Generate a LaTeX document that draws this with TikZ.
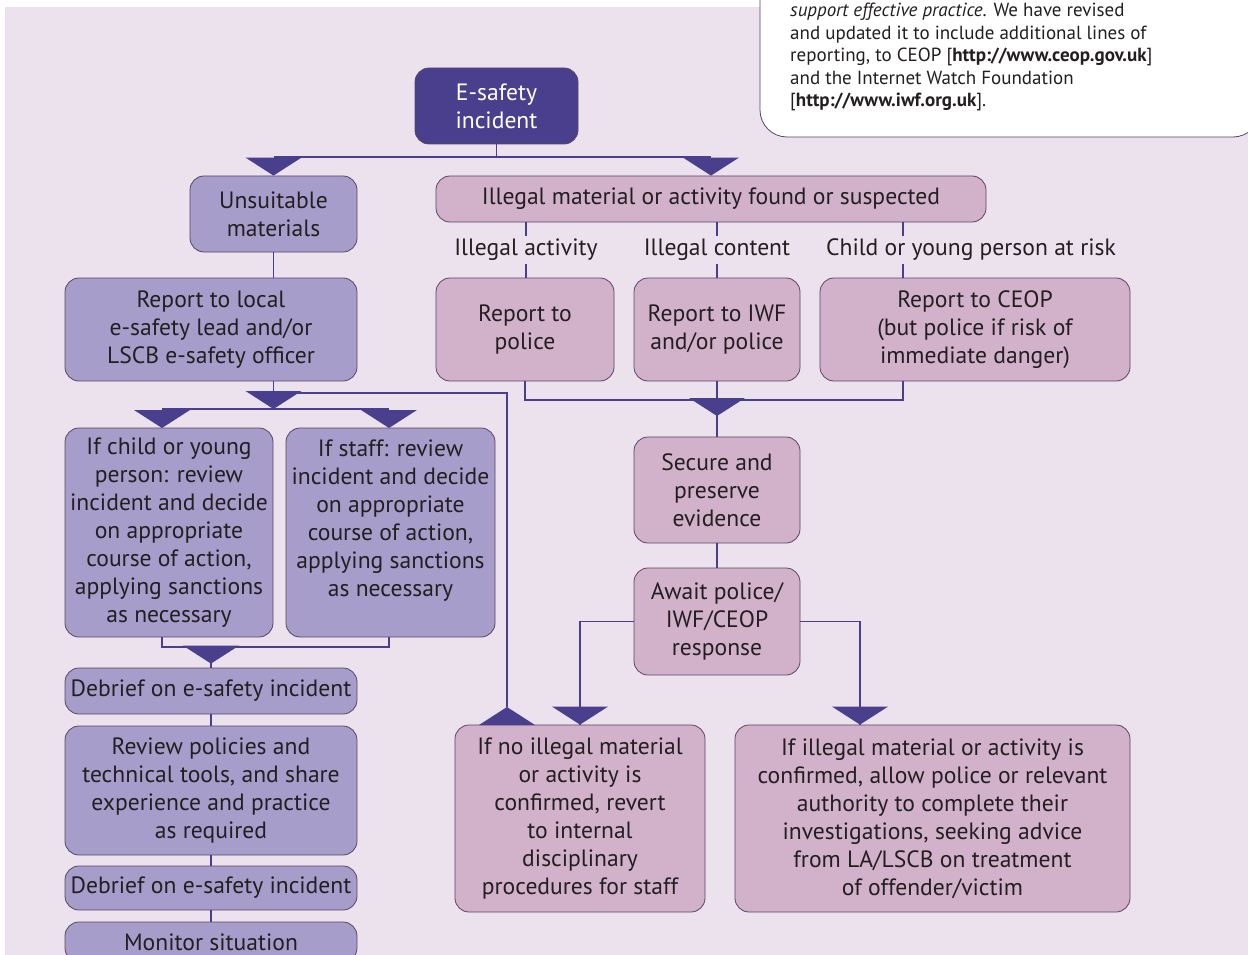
\documentclass[tikz,border=0pt]{standalone}
\usepackage{fontspec}
\setmainfont{PT Sans}
\definecolor{navy}{HTML}{4A3F8C}
\definecolor{lilac}{HTML}{A69DCA}
\definecolor{mauve}{HTML}{D2B1CB}
\definecolor{backg}{HTML}{ECE2EE}
\definecolor{edge}{HTML}{5A4664}
\definecolor{ink}{HTML}{231F20}
\newcommand{\dtri}[1]{\fill[navy] (#1) -- ++(-28,18) -- ++(56,0) -- cycle;}
\newcommand{\utri}[1]{\fill[navy] (#1) -- ++(-28,-18) -- ++(56,0) -- cycle;}

\begin{document}
\begin{tikzpicture}[x=1pt, y=1pt]
	\tikzstyle{box}=[draw=edge, line width=0.8pt, rounded corners=14pt, align=center, inner sep=0pt, text=ink, font=\fontsize{23.6}{28}\selectfont]
	\tikzstyle{lilacStyle}=[box, fill=lilac]
	\tikzstyle{mauveStyle}=[box, fill=mauve]
	\tikzstyle{labelStyle}=[align=center, inner sep=0pt, minimum height=28pt, text=ink, font=\fontsize{23.6}{28}\selectfont]
	\tikzstyle{link}=[navy, line width=1.8pt]
	\clip (0,0) rectangle (1248,-955);
	\fill[white] (0,0) rectangle (1248,-955);
	\fill[backg] (5,-7) rectangle (1248,-955);
	\draw[edge, fill=white, line width=0.8pt, rounded corners=27pt] (760,5) -- (760,-137) -- (1260,-137) -- (1260,5);
	\node[anchor=north west, align=left, inner sep=0pt, text=ink, font=\fontsize{19}{22.5}\selectfont] (note) at (790,-3) {\textit{support effective practice}. We have revised\\and updated it to include additional lines of\\reporting, to CEOP {[}\textbf{http://www.ceop.gov.uk}]\\and the Internet Watch Foundation\\{[}\textbf{http://www.iwf.org.uk}].};
	\node[box, fill=navy, text=white, minimum width=163pt, minimum height=76pt] (esafe) at (496.5,-106) {E-safety\\incident};
	\node[lilacStyle, minimum width=167pt, minimum height=76pt] (unsuit) at (273.5,-214) {Unsuitable\\materials};
	\node[mauveStyle, minimum width=550pt, minimum height=46pt] (illegal) at (711,-199) {Illegal material or activity found or suspected};
	\node[labelStyle] (lbl1) at (526,-250) {Illegal activity};
	\node[labelStyle] (lbl2) at (717,-250) {Illegal content};
	\node[labelStyle] (lbl3) at (971,-250) {Child or young person at risk};
	\node[lilacStyle, minimum width=292pt, minimum height=103pt] (local) at (211,-329.5) {Report to local\\e-safety lead and/or\\LSCB e-safety officer};
	\node[mauveStyle, minimum width=178pt, minimum height=103pt] (police) at (525,-329.5) {Report to\\police};
	\node[mauveStyle, minimum width=166pt, minimum height=103pt] (iwf) at (717,-329.5) {Report to IWF\\and/or police};
	\node[mauveStyle, minimum width=310pt, minimum height=103pt] (ceop) at (975,-329.5) {Report to CEOP\\(but police if risk of\\immediate danger)};
	\node[lilacStyle, minimum width=208pt, minimum height=209pt] (child) at (169,-532.5) {If child or young\\person: review\\incident and decide\\on appropriate\\course of action,\\applying sanctions\\as necessary};
	\node[lilacStyle, minimum width=209pt, minimum height=209pt] (staff) at (390.5,-532.5) {If staff: review\\incident and decide\\on appropriate\\course of action,\\applying sanctions\\as necessary\\ \mbox{}};
	\node[mauveStyle, minimum width=166pt, minimum height=106pt] (secure) at (717,-490) {Secure and\\preserve\\evidence};
	\node[mauveStyle, minimum width=166pt, minimum height=107pt] (await) at (717,-621.5) {Await police/\\IWF/CEOP\\response};
	\node[lilacStyle, minimum width=292pt, minimum height=46pt] (debrief1) at (211,-691) {Debrief on e-safety incident};
	\node[lilacStyle, minimum width=292pt, minimum height=129pt] (review) at (211,-790.5) {Review policies and\\technical tools, and share\\experience and practice\\as required};
	\node[lilacStyle, minimum width=292pt, minimum height=44pt] (debrief2) at (211,-888) {Debrief on e-safety incident};
	\node[lilacStyle, minimum width=292pt, minimum height=40pt] (monitor) at (211,-942) {Monitor situation};
	\node[mauveStyle, minimum width=250pt, minimum height=187pt] (noill) at (580,-818.5) {If no illegal material\\or activity is\\confirmed, revert\\to internal\\disciplinary\\procedures for staff};
	\node[mauveStyle, minimum width=395pt, minimum height=187pt] (confirmed) at (932.5,-818.5) {If illegal material or activity is\\confirmed, allow police or relevant\\authority to complete their\\investigations, seeking advice\\from LA/LSCB on treatment\\of offender/victim};
	\coordinate (t0) at (496.5,-157);
	\coordinate (k3) at (903,-250);
	\coordinate (m1) at (717,-400);
	\coordinate (k4) at (860,-622);
	\coordinate (m2) at (273.5,-393);
	\coordinate (k5) at (507,-707);
	\coordinate (m3) at (273.5,-409);
	\coordinate (k6) at (162,-428);
	\coordinate (k7) at (389,-428);
	\coordinate (m4) at (211,-647);
	\draw[link] (esafe.south) -- (t0);
	\draw[link] (t0 -| unsuit) -- (t0 -| illegal);
	\dtri{unsuit.north}
	\dtri{illegal.north}
	\draw[link] (unsuit.south) -- (local.north -| unsuit);
	\draw[link] (illegal.south -| lbl1) -- (lbl1.north);
	\draw[link] (lbl1.south) -- (police.north -| lbl1);
	\draw[link] (illegal.south -| lbl2) -- (lbl2.north);
	\draw[link] (lbl2.south) -- (iwf.north);
	\draw[link] (illegal.south -| k3) -- (lbl3.north -| k3);
	\draw[link] (lbl3.south -| k3) -- (ceop.north -| k3);
	\draw[link] (police.south) |- (m1) -| (ceop.south -| k3);
	\draw[link] (iwf.south) -- (secure.north);
	\dtri{[yshift=-16]m1}
	\draw[link] (secure.south) -- (await.north);
	\draw[link] (await.west) -| (noill.north);
	\draw[link] (await.east) -| (confirmed.north -| k4);
	\dtri{noill.north}
	\dtri{confirmed.north -| k4}
	\draw[link] (local.south -| m2) -- (m2) -| (k5);
	\utri{k5}
	\dtri{[yshift=-16]m2}
	\draw[link] (k6 |- m3) -- (k7 |- m3);
	\dtri{k6}
	\dtri{k7}
	\draw[link] (child.south -| k6) |- (m4) -| (staff.south -| k7);
	\draw[link] (m4) -- (debrief1.north);
	\dtri{[yshift=4]debrief1.north}
	\draw[link] (debrief1.south) -- (review.north);
	\draw[link] (review.south) -- (debrief2.north);
	\draw[link] (debrief2.south) -- (monitor.north);
\end{tikzpicture}
\end{document}
